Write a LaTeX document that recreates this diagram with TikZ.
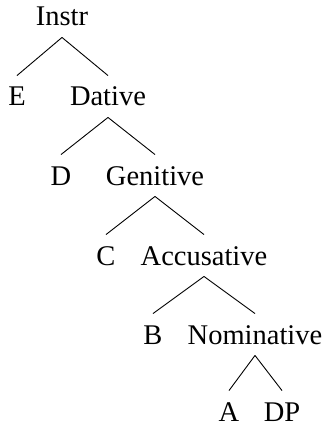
\documentclass[tikz,border=0pt]{standalone}
\usepackage{fontspec}
\setmainfont{Liberation Serif}
\usepackage{tikz}

\begin{document}
\begin{tikzpicture}[x=1pt,y=-1pt,line width=0.9pt,
                    cat node/.style={anchor=base,inner xsep=2pt,inner ysep=11pt,
                      text height=19pt,text depth=0pt,font=\fontsize{28.5}{34}\selectfont},
                    leaf node/.style={cat node,inner ysep=1pt,text height=29pt}]
  \useasboundingbox (0,0) rectangle (325,425);

  \node[cat node] (instr) at (62,26) {Instr};
  \node[cat node] (e) at (17,106) {E};
  \node[cat node] (dat) at (108,106) {Dative};
  \node[cat node] (d) at (61,185) {D};
  \node[cat node] (gen) at (155,185) {Genitive};
  \node[cat node] (c) at (106,265) {C};
  \node[cat node] (acc) at (204,265) {Accusative};
  \node[cat node] (b) at (153,344) {B};
  \node[cat node] (nom) at (255,344) {Nominative};
  \node[leaf node] (a) at (229,421) {A};
  \node[leaf node] (dp) at (282,421) {DP};

  \path
    (instr.south) edge (e.north)
                  edge (dat.north)
    (dat.south) edge (d.north)
                edge (gen.north)
    (gen.south) edge (c.north)
                edge (acc.north)
    (acc.south) edge (b.north)
                edge (nom.north)
    (nom.south) edge (a.north)
                edge (dp.north);

\end{tikzpicture}
\end{document}
